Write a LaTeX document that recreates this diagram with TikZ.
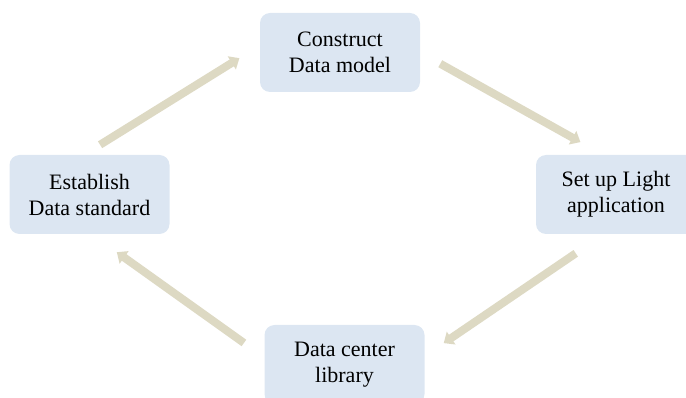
\documentclass[tikz,border=0pt]{standalone}
\usepackage{fontspec}
\setmainfont{Liberation Serif}
\usetikzlibrary{arrows.meta}
\definecolor{boxblue}{HTML}{DCE6F2}
\definecolor{arrowtan}{HTML}{DDD9C3}
\tikzset{every node/.style={inner sep=0pt, font=\fontsize{22}{26}\selectfont},
  stage/.style={fill=boxblue, rounded corners=10pt, minimum width=160pt, minimum height=79pt, align=center},
  flow/.style={arrowtan, line width=8pt, -{Triangle[width=15pt,length=9pt]}}}

\begin{document}
\begin{tikzpicture}[x=1pt,y=-1pt]
  \useasboundingbox (0,0) rectangle (686,398);
  \node[stage] (model)    at (340.0, 52.5) {Construct\\Data model};
  \node[stage] (light)    at (616.0,194.5) {Set up Light\\application};
  \node[stage] (library)  at (344.5,364.5) {Data center\\library};
  \node[stage] (standard) at ( 89.5,194.5) {Establish\\Data standard};
  \draw[flow, shorten <=19pt, shorten >=24pt] (standard.98) -- (model.175);
  \draw[flow, shorten <=23pt, shorten >=26pt] (model.east) -- (light.108);
  \draw[flow, shorten <=34pt, shorten >=23pt] (light.253) -- (library.6);
  \draw[flow, shorten <=25pt, shorten >=31pt] (library.175) -- (standard.273);
\end{tikzpicture}
\end{document}
